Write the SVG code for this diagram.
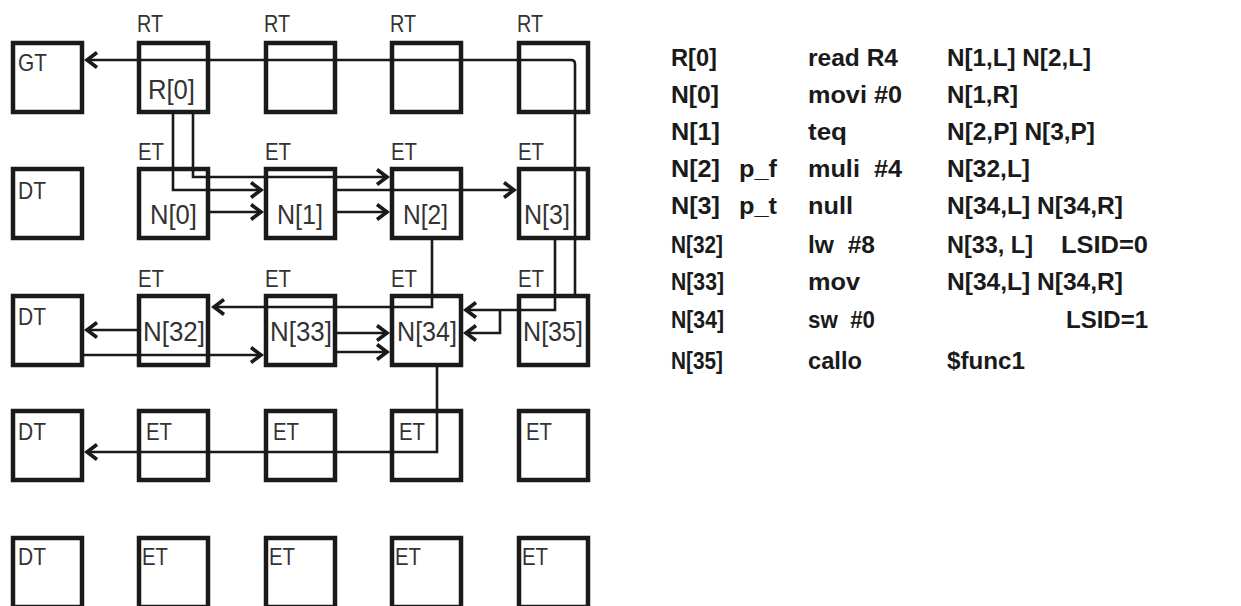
<svg xmlns="http://www.w3.org/2000/svg" width="1241" height="606" viewBox="0 0 1241 606">
<style>
.box{fill:none;stroke:#1a1a1a;stroke-width:4.5}
.lbl{font-family:"Liberation Sans",Arial,sans-serif;font-size:24px;fill:#333}
.nl{font-family:"Liberation Sans",Arial,sans-serif;font-size:27px;fill:#333}
.w{fill:none;stroke:#1a1a1a;stroke-width:2.6}
.a{marker-end:url(#ah)}
.t{font-family:"Liberation Sans",Arial,sans-serif;font-size:24px;font-weight:bold;fill:#1a1a1a}
</style>
<defs>
<marker id="ah" markerUnits="userSpaceOnUse" viewBox="-16 -10 18 20" markerWidth="18" markerHeight="20" refX="0" refY="0" orient="auto">
<path d="M-11,-7.5 L-1,0 L-11,7.5" fill="none" stroke="#1a1a1a" stroke-width="3.6" stroke-linejoin="miter"/>
</marker>
</defs>
<rect width="1241" height="606" fill="#fff"/>

<!-- row 1 -->
<g id="gt"><rect class="box" x="13" y="43" width="69" height="69"/><text class="lbl" x="18" y="71" textLength="29" lengthAdjust="spacingAndGlyphs">GT</text></g>
<g id="rt1"><text class="lbl" x="137" y="32" textLength="26" lengthAdjust="spacingAndGlyphs">RT</text><rect class="box" x="139" y="43" width="69" height="69"/><text class="nl" x="148" y="99" textLength="47" lengthAdjust="spacingAndGlyphs">R[0]</text></g>
<g id="rt2"><text class="lbl" x="264" y="32" textLength="26" lengthAdjust="spacingAndGlyphs">RT</text><rect class="box" x="266" y="43" width="69" height="69"/></g>
<g id="rt3"><text class="lbl" x="390" y="32" textLength="26" lengthAdjust="spacingAndGlyphs">RT</text><rect class="box" x="392" y="43" width="69" height="69"/></g>
<g id="rt4"><text class="lbl" x="517" y="32" textLength="26" lengthAdjust="spacingAndGlyphs">RT</text><rect class="box" x="519" y="43" width="69" height="69"/></g>

<!-- row 2 -->
<g id="dt1"><rect class="box" x="13" y="169" width="69" height="69"/><text class="lbl" x="18" y="199" textLength="28" lengthAdjust="spacingAndGlyphs">DT</text></g>
<g id="n0"><text class="lbl" x="138" y="160" textLength="26" lengthAdjust="spacingAndGlyphs">ET</text><rect class="box" x="139" y="169" width="69" height="69"/><text class="nl" x="150" y="224" textLength="47" lengthAdjust="spacingAndGlyphs">N[0]</text></g>
<g id="n1"><text class="lbl" x="265" y="160" textLength="26" lengthAdjust="spacingAndGlyphs">ET</text><rect class="box" x="266" y="169" width="69" height="69"/><text class="nl" x="277" y="224" textLength="46" lengthAdjust="spacingAndGlyphs">N[1]</text></g>
<g id="n2"><text class="lbl" x="391" y="160" textLength="26" lengthAdjust="spacingAndGlyphs">ET</text><rect class="box" x="392" y="169" width="69" height="69"/><text class="nl" x="403" y="224" textLength="45" lengthAdjust="spacingAndGlyphs">N[2]</text></g>
<g id="n3"><text class="lbl" x="518" y="160" textLength="26" lengthAdjust="spacingAndGlyphs">ET</text><rect class="box" x="519" y="169" width="69" height="69"/><text class="nl" x="524" y="224" textLength="46" lengthAdjust="spacingAndGlyphs">N[3]</text></g>

<!-- row 3 -->
<g id="dt2"><rect class="box" x="13" y="296" width="69" height="69"/><text class="lbl" x="18" y="325" textLength="28" lengthAdjust="spacingAndGlyphs">DT</text></g>
<g id="n32"><text class="lbl" x="138" y="287" textLength="26" lengthAdjust="spacingAndGlyphs">ET</text><rect class="box" x="139" y="296" width="69" height="69"/><text class="nl" x="143" y="341" textLength="62" lengthAdjust="spacingAndGlyphs">N[32]</text></g>
<g id="n33"><text class="lbl" x="265" y="287" textLength="26" lengthAdjust="spacingAndGlyphs">ET</text><rect class="box" x="266" y="296" width="69" height="69"/><text class="nl" x="270" y="341" textLength="62" lengthAdjust="spacingAndGlyphs">N[33]</text></g>
<g id="n34"><text class="lbl" x="391" y="287" textLength="26" lengthAdjust="spacingAndGlyphs">ET</text><rect class="box" x="392" y="296" width="69" height="69"/><text class="nl" x="397" y="341" textLength="60" lengthAdjust="spacingAndGlyphs">N[34]</text></g>
<g id="n35"><text class="lbl" x="518" y="287" textLength="26" lengthAdjust="spacingAndGlyphs">ET</text><rect class="box" x="519" y="296" width="69" height="69"/><text class="nl" x="523" y="341" textLength="60" lengthAdjust="spacingAndGlyphs">N[35]</text></g>

<!-- row 4 -->
<g id="dt3"><rect class="box" x="13" y="411" width="69" height="69"/><text class="lbl" x="18" y="440" textLength="28" lengthAdjust="spacingAndGlyphs">DT</text></g>
<g id="et41"><rect class="box" x="139" y="411" width="69" height="69"/><text class="lbl" x="146" y="440" textLength="26" lengthAdjust="spacingAndGlyphs">ET</text></g>
<g id="et42"><rect class="box" x="266" y="411" width="69" height="69"/><text class="lbl" x="273" y="440" textLength="26" lengthAdjust="spacingAndGlyphs">ET</text></g>
<g id="et43"><rect class="box" x="392" y="411" width="69" height="69"/><text class="lbl" x="399" y="440" textLength="26" lengthAdjust="spacingAndGlyphs">ET</text></g>
<g id="et44"><rect class="box" x="519" y="411" width="69" height="69"/><text class="lbl" x="526" y="440" textLength="26" lengthAdjust="spacingAndGlyphs">ET</text></g>

<!-- row 5 -->
<g id="dt4"><rect class="box" x="13" y="538" width="69" height="69"/><text class="lbl" x="18" y="565" textLength="28" lengthAdjust="spacingAndGlyphs">DT</text></g>
<g id="et51"><rect class="box" x="139" y="538" width="69" height="69"/><text class="lbl" x="142" y="565" textLength="26" lengthAdjust="spacingAndGlyphs">ET</text></g>
<g id="et52"><rect class="box" x="266" y="538" width="69" height="69"/><text class="lbl" x="269" y="565" textLength="26" lengthAdjust="spacingAndGlyphs">ET</text></g>
<g id="et53"><rect class="box" x="392" y="538" width="69" height="69"/><text class="lbl" x="395" y="565" textLength="26" lengthAdjust="spacingAndGlyphs">ET</text></g>
<g id="et54"><rect class="box" x="519" y="538" width="69" height="69"/><text class="lbl" x="522" y="565" textLength="26" lengthAdjust="spacingAndGlyphs">ET</text></g>

<g id="connectors">
<path class="w a" d="M575,296 V64 Q575,60 571,60 H86"/>
<path class="w a" d="M173,114 V190 H262"/>
<path class="w a" d="M193,114 V177 H388"/>
<path class="w a" d="M210,212 H262"/>
<path class="w a" d="M337,190 H515"/>
<path class="w a" d="M337,212 H388"/>
<path class="w a" d="M432,240 V307 H213"/>
<path class="w a" d="M555,240 V310 H465"/>
<path class="w a" d="M500,310 V333 H465"/>
<path class="w a" d="M337,333 H388"/>
<path class="w a" d="M337,352 H388"/>
<path class="w a" d="M137,330 H86"/>
<path class="w a" d="M83,355 H262"/>
<path class="w a" d="M437,367 V452 H86"/>
</g>

<g id="listing">
<text class="t" x="671" y="66" textLength="46" lengthAdjust="spacingAndGlyphs">R[0]</text>
<text class="t" x="808" y="66" textLength="90" lengthAdjust="spacingAndGlyphs">read R4</text>
<text class="t" x="947" y="66" textLength="144" lengthAdjust="spacingAndGlyphs">N[1,L] N[2,L]</text>

<text class="t" x="671" y="103" textLength="48" lengthAdjust="spacingAndGlyphs">N[0]</text>
<text class="t" x="808" y="103" textLength="94" lengthAdjust="spacingAndGlyphs">movi #0</text>
<text class="t" x="947" y="103" textLength="71" lengthAdjust="spacingAndGlyphs">N[1,R]</text>

<text class="t" x="671" y="140" textLength="49" lengthAdjust="spacingAndGlyphs">N[1]</text>
<text class="t" x="808" y="140" textLength="39" lengthAdjust="spacingAndGlyphs">teq</text>
<text class="t" x="947" y="140" textLength="148" lengthAdjust="spacingAndGlyphs">N[2,P] N[3,P]</text>

<text class="t" x="671" y="177" textLength="49" lengthAdjust="spacingAndGlyphs">N[2]</text>
<text class="t" x="739" y="177" textLength="38" lengthAdjust="spacingAndGlyphs">p_f</text>
<text class="t" x="808" y="177" textLength="94" lengthAdjust="spacingAndGlyphs" xml:space="preserve">muli  #4</text>
<text class="t" x="947" y="177" textLength="83" lengthAdjust="spacingAndGlyphs">N[32,L]</text>

<text class="t" x="671" y="214" textLength="49" lengthAdjust="spacingAndGlyphs">N[3]</text>
<text class="t" x="739" y="214" textLength="38" lengthAdjust="spacingAndGlyphs">p_t</text>
<text class="t" x="808" y="214" textLength="45" lengthAdjust="spacingAndGlyphs">null</text>
<text class="t" x="947" y="214" textLength="176" lengthAdjust="spacingAndGlyphs">N[34,L] N[34,R]</text>

<text class="t" x="671" y="253" textLength="52" lengthAdjust="spacingAndGlyphs">N[32]</text>
<text class="t" x="808" y="253" textLength="67" lengthAdjust="spacingAndGlyphs" xml:space="preserve">lw  #8</text>
<text class="t" x="947" y="253" textLength="86" lengthAdjust="spacingAndGlyphs">N[33, L]</text>
<text class="t" x="1061" y="253" textLength="87" lengthAdjust="spacingAndGlyphs">LSID=0</text>

<text class="t" x="671" y="290" textLength="53" lengthAdjust="spacingAndGlyphs">N[33]</text>
<text class="t" x="808" y="290" textLength="52" lengthAdjust="spacingAndGlyphs">mov</text>
<text class="t" x="947" y="290" textLength="176" lengthAdjust="spacingAndGlyphs">N[34,L] N[34,R]</text>

<text class="t" x="671" y="328" textLength="53" lengthAdjust="spacingAndGlyphs">N[34]</text>
<text class="t" x="808" y="328" textLength="67" lengthAdjust="spacingAndGlyphs" xml:space="preserve">sw  #0</text>
<text class="t" x="1066" y="328" textLength="82" lengthAdjust="spacingAndGlyphs">LSID=1</text>

<text class="t" x="671" y="369" textLength="52" lengthAdjust="spacingAndGlyphs">N[35]</text>
<text class="t" x="808" y="369" textLength="54" lengthAdjust="spacingAndGlyphs">callo</text>
<text class="t" x="947" y="369" textLength="78" lengthAdjust="spacingAndGlyphs">$func1</text>
</g>
</svg>
